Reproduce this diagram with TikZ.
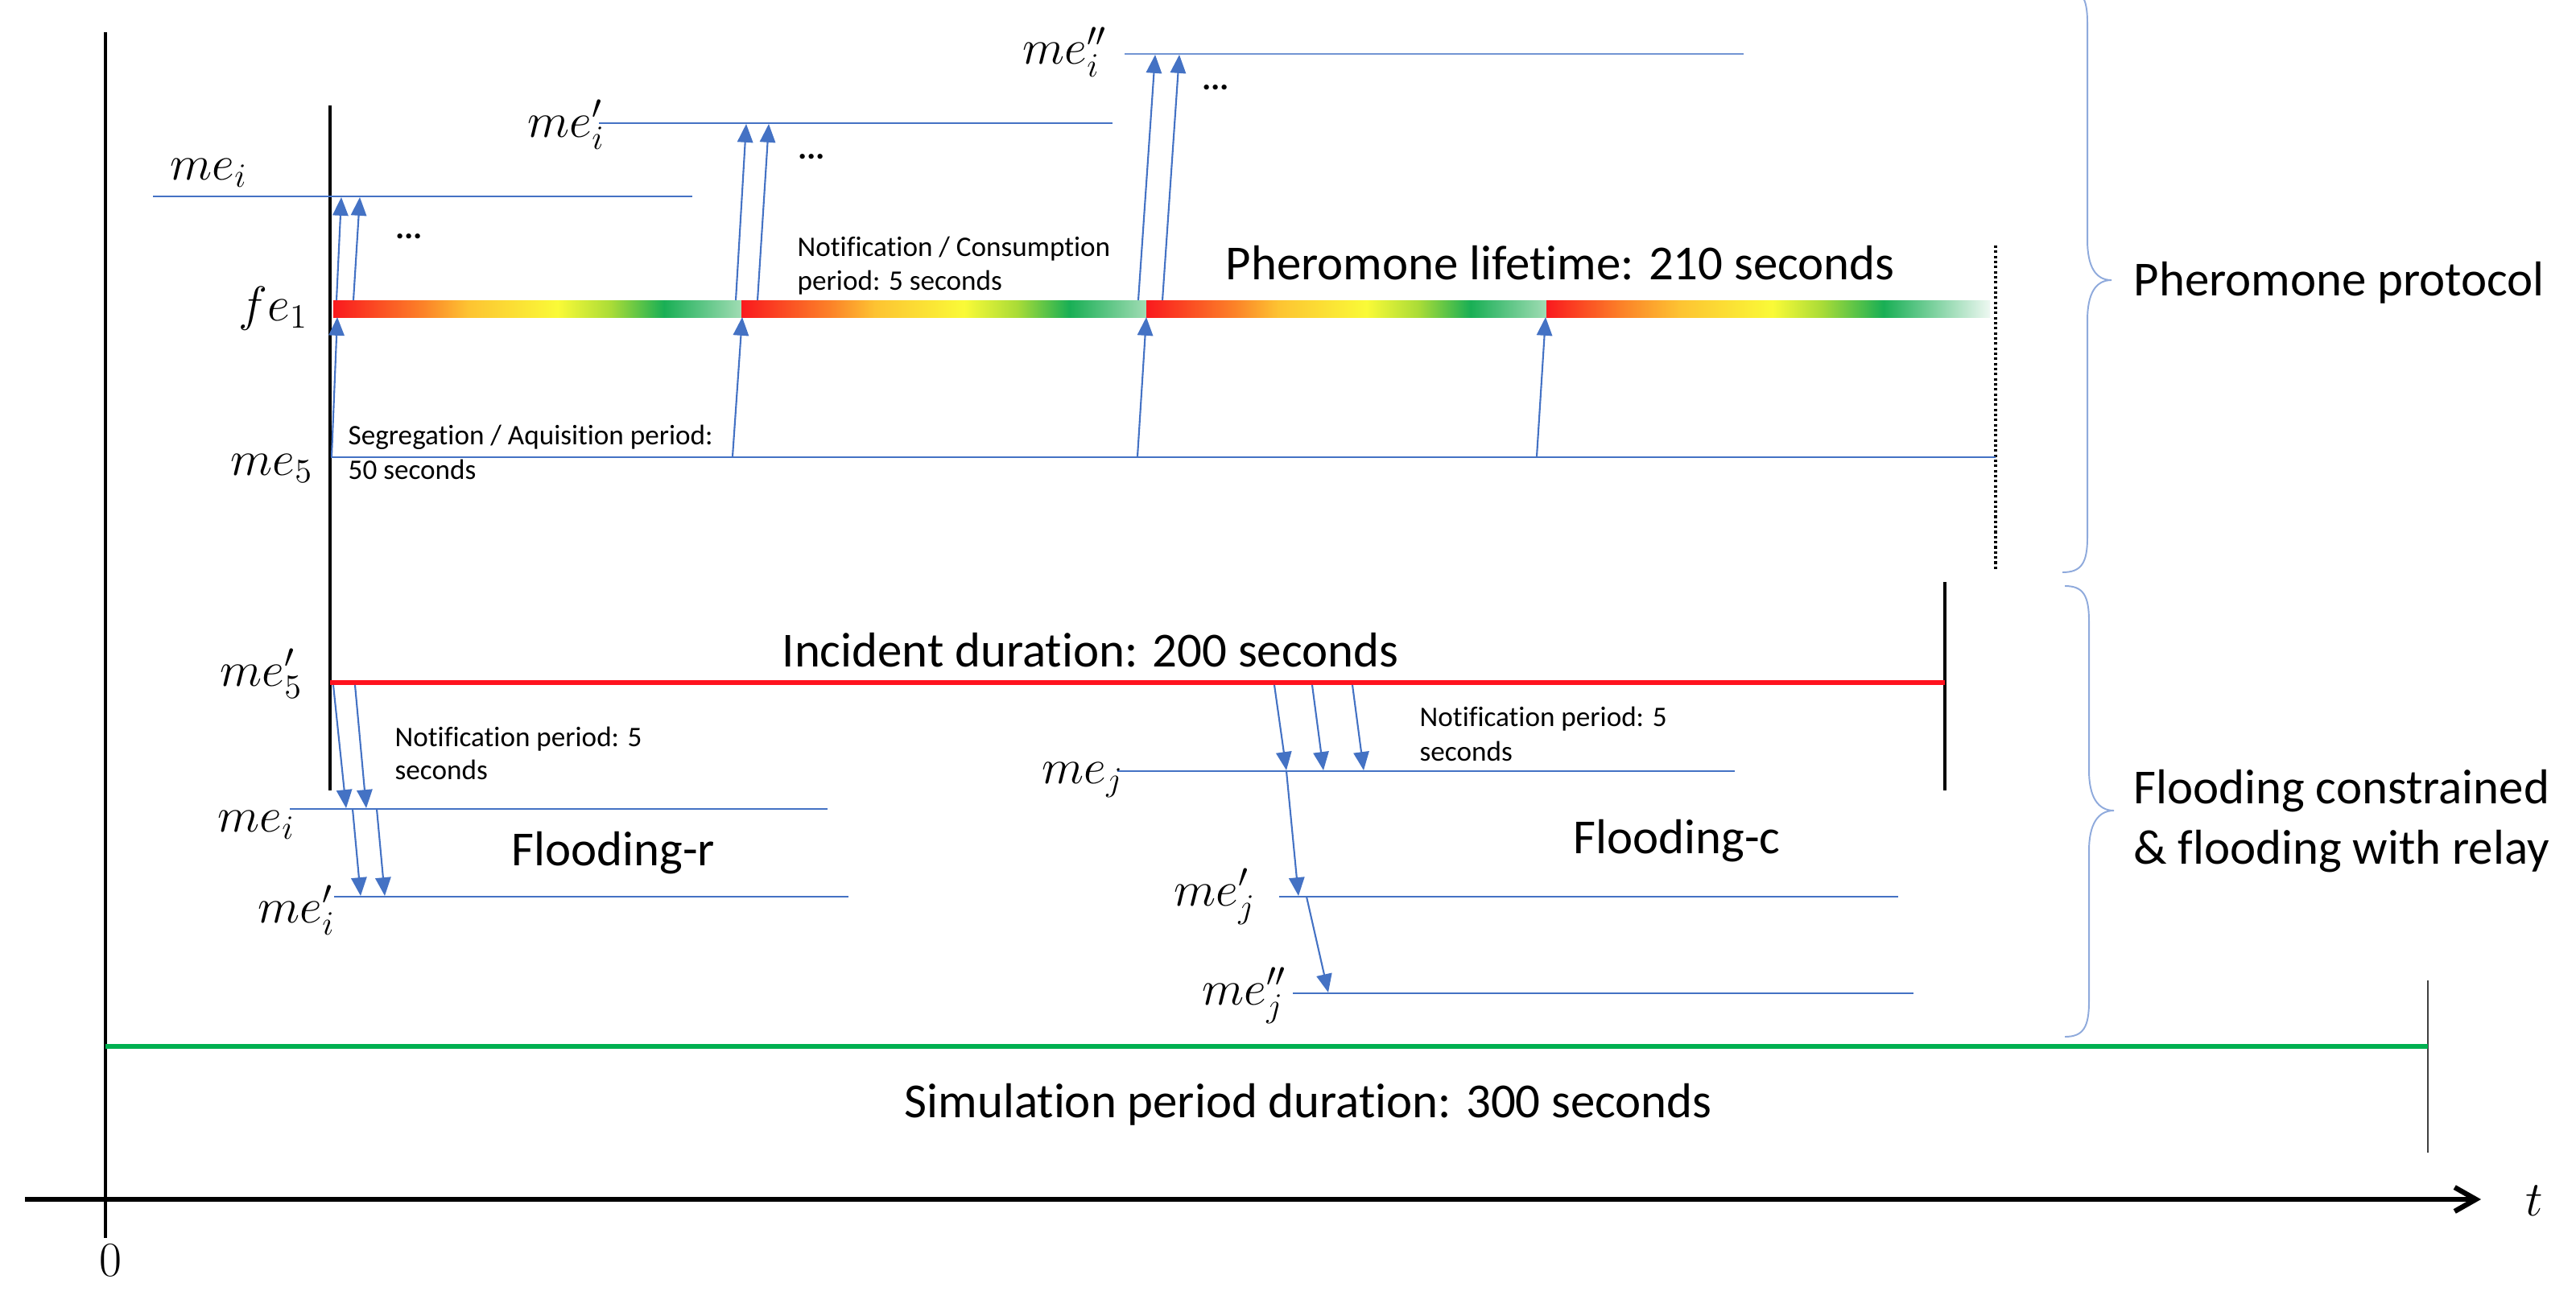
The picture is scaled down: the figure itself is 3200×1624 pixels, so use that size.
\documentclass[tikz,border=0pt]{standalone}
\usepackage[no-math]{fontspec}
\setmainfont[Ligatures=NoCommon]{Carlito}
\usetikzlibrary{arrows.meta}
\definecolor{msblue}{RGB}{68,114,196}
\definecolor{lblue}{RGB}{143,170,220}
\definecolor{msgreen}{RGB}{0,176,80}
\definecolor{msred}{RGB}{255,18,30}
\definecolor{sA0}{RGB}{250,25,30}
\definecolor{sA1}{RGB}{252,130,40}
\definecolor{sA2}{RGB}{253,195,50}
\definecolor{sA3}{RGB}{250,250,55}
\definecolor{sA4}{RGB}{170,220,55}
\definecolor{sA5}{RGB}{25,175,85}
\definecolor{sA6}{RGB}{160,220,180}
\definecolor{sB6}{RGB}{238,248,242}
\pgfdeclarehorizontalshading{pherA}{100bp}{color(0bp)=(sA0); color(25bp)=(sA0); color(36bp)=(sA1); color(41.5bp)=(sA2); color(52.5bp)=(sA3); color(59bp)=(sA4); color(65.5bp)=(sA5); color(75bp)=(sA6); color(100bp)=(sA6)}
\pgfdeclarehorizontalshading{pherB}{100bp}{color(0bp)=(sA0); color(25bp)=(sA0); color(33.5bp)=(sA1); color(40bp)=(sA2); color(50.5bp)=(sA3); color(56bp)=(sA4); color(63bp)=(sA5); color(75bp)=(sB6); color(100bp)=(sB6)}
\tikzset{
  big/.style={font=\fontsize{17.3}{20}\selectfont, inner sep=0pt, anchor=base west},
  small/.style={font=\fontsize{10}{12}\selectfont, inner sep=0pt, anchor=base west},
  lab/.style={font=\fontsize{17.5}{20}\selectfont, inner sep=0pt, anchor=base west},
  dots/.style={font=\fontsize{12}{14}\selectfont\bfseries, inner sep=0pt},
  msgline/.style={msblue, line width=0.6pt},
  msg/.style={msblue, line width=0.6pt, -{Triangle[length=6.5pt,width=5.5pt]}},
  brc/.style={lblue, line width=0.55pt},
}
\begin{document}
\begin{tikzpicture}[x=0.01cm, y=-0.01cm]
\useasboundingbox (0,0) rectangle (3200,1624);

% ---- axes ----
\coordinate (ax0) at (31,1490); \coordinate (ax1) at (3082,1490);
\coordinate (ay0) at (131,40); \coordinate (ay1) at (131,1538);
\draw[line width=1.4pt] (ay0) -- (ay1);
\draw[line width=1.8pt, -{Straight Barb[length=7.5pt,width=8.5pt]}] (ax0) -- (ax1);
\node[font=\fontsize{18}{20}\selectfont, inner sep=0pt] (tlab) at (3148,1492) {$t$};
\node[font=\fontsize{18}{20}\selectfont, inner sep=0pt] (zero) at (137,1566) {$0$};

% ---- black verticals ----
\coordinate (v0) at (410,131); \coordinate (v1) at (410,982);
\draw[line width=1.1pt] (v0) -- (v1);
\coordinate (w0) at (2416,723); \coordinate (w1) at (2416,982);
\draw[line width=1.1pt] (w0) -- (w1);
\coordinate (d0) at (2479,305); \coordinate (d1) at (2479,708);
\draw[line width=0.9pt, dash pattern=on 0.9pt off 0.9pt] (d0) -- (d1);
\coordinate (s0) at (3016,1218); \coordinate (s1) at (3016,1432);
\draw[line width=0.5pt, black!75] (s0) -- (s1);

% ---- red and green lines ----
\coordinate (r0) at (410,848); \coordinate (r1) at (2416,848);
\draw[msred, line width=1.6pt] (r0) -- (r1);
\coordinate (g0) at (131,1300); \coordinate (g1) at (3016,1300);
\draw[msgreen, line width=1.6pt] (g0) -- (g1);

% ---- blue timelines ----
\coordinate (mi0) at (190,244); \coordinate (mi1) at (860,244);
\coordinate (mip0) at (744,153); \coordinate (mip1) at (1382,153);
\coordinate (mipp0) at (1397,67); \coordinate (mipp1) at (2166,67);
\coordinate (m50) at (411,568); \coordinate (m51) at (2479,568);
\coordinate (li0) at (360,1005); \coordinate (li1) at (1028,1005);
\coordinate (lip0) at (415,1114); \coordinate (lip1) at (1054,1114);
\coordinate (mj0) at (1388,958); \coordinate (mj1) at (2155,958);
\coordinate (mjp0) at (1589,1114); \coordinate (mjp1) at (2358,1114);
\coordinate (mjpp0) at (1606,1234); \coordinate (mjpp1) at (2377,1234);
\draw[msgline] (mi0) -- (mi1);
\draw[msgline] (mip0) -- (mip1);
\draw[msblue!75, line width=0.8pt] (mipp0) -- (mipp1);
\draw[msgline] (m50) -- (m51);
\draw[msgline] (li0) -- (li1);
\draw[msgline] (lip0) -- (lip1);
\draw[msgline] (mj0) -- (mj1);
\draw[msgline] (mjp0) -- (mjp1);
\draw[msgline] (mjpp0) -- (mjpp1);

% ---- pheromone bars ----
\shade[shading=pherA] (414,373) rectangle (921,394);
\shade[shading=pherA] (921,373) rectangle (1424,394);
\shade[shading=pherA] (1424,373) rectangle (1921,394);
\shade[shading=pherB] (1921,373) rectangle (2472,394);

% ---- arrows me5 -> fe1 ----
\coordinate (a0s) at (412,567); \coordinate (a0e) at (419,394);
\coordinate (a1s) at (910,567); \coordinate (a1e) at (922,394);
\coordinate (a2s) at (1413,567); \coordinate (a2e) at (1424,394);
\coordinate (a3s) at (1909,567); \coordinate (a3e) at (1920,394);
\draw[msg] (a0s) -- (a0e);
\draw[msg] (a1s) -- (a1e);
\draw[msg] (a2s) -- (a2e);
\draw[msg] (a3s) -- (a3e);

% ---- arrows fe1 -> me_i, me_i', me_i'' ----
\coordinate (b1s) at (418,373); \coordinate (b1e) at (424,245);
\coordinate (b2s) at (439,373); \coordinate (b2e) at (447,245);
\coordinate (c1s) at (914,373); \coordinate (c1e) at (927,154);
\coordinate (c2s) at (941,373); \coordinate (c2e) at (955,154);
\coordinate (e1s) at (1414,373); \coordinate (e1e) at (1435,68);
\coordinate (e2s) at (1444,373); \coordinate (e2e) at (1465,68);
\draw[msg] (b1s) -- (b1e);
\draw[msg] (b2s) -- (b2e);
\draw[msg] (c1s) -- (c1e);
\draw[msg] (c2s) -- (c2e);
\draw[msg] (e1s) -- (e1e);
\draw[msg] (e2s) -- (e2e);

% ---- flooding-r arrows ----
\coordinate (f1s) at (414,851); \coordinate (f1e) at (430,1004);
\coordinate (f2s) at (441,851); \coordinate (f2e) at (455,1004);
\coordinate (h1s) at (438,1005); \coordinate (h1e) at (448,1113);
\coordinate (h2s) at (468,1005); \coordinate (h2e) at (478,1113);
\draw[msg] (f1s) -- (f1e);
\draw[msg] (f2s) -- (f2e);
\draw[msg] (h1s) -- (h1e);
\draw[msg] (h2s) -- (h2e);

% ---- flooding-c arrows ----
\coordinate (k1s) at (1583,851); \coordinate (k1e) at (1598,957);
\coordinate (k2s) at (1630,851); \coordinate (k2e) at (1644,957);
\coordinate (k3s) at (1680,851); \coordinate (k3e) at (1694,957);
\coordinate (k4s) at (1598,958); \coordinate (k4e) at (1613,1113);
\coordinate (k5s) at (1623,1114); \coordinate (k5e) at (1650,1233);
\draw[msg] (k1s) -- (k1e);
\draw[msg] (k2s) -- (k2e);
\draw[msg] (k3s) -- (k3e);
\draw[msg] (k4s) -- (k4e);
\draw[msg] (k5s) -- (k5e);

% ---- braces ----
\draw[brc] (2562,711) .. controls (2585,711) and (2593,700) .. (2593,668)
  -- (2593,398) .. controls (2593,365) and (2603,348) .. (2623,348)
  .. controls (2603,348) and (2593,331) .. (2593,298)
  -- (2593,28) .. controls (2593,-4) and (2585,-15) .. (2562,-15);
\draw[brc] (2565,728) .. controls (2588,728) and (2595,740) .. (2595,772)
  -- (2595,957) .. controls (2595,990) and (2606,1007) .. (2626,1007)
  .. controls (2606,1007) and (2595,1024) .. (2595,1057)
  -- (2595,1244) .. controls (2595,1276) and (2588,1288) .. (2565,1288);

% ---- math labels ----
\node[lab] (mei) at (211,223) {$me_i$};
\node[lab] (meip) at (655,170) {$me_i'$};
\node[lab] (meipp) at (1270,80) {$me_i''$};
\node[lab] (fe1) at (296,398) {$fe_1$};
\node[lab] (me5) at (286,590) {$me_5$};
\node[lab] (me5p) at (273,852) {$me_5'$};
\node[lab] (meiL) at (270,1033) {$me_i$};
\node[lab] (meiLp) at (320,1146) {$me_i'$};
\node[lab] (mej) at (1294,973) {$me_j$};
\node[lab] (mejp) at (1458,1125) {$me_j'$};
\node[lab] (mejpp) at (1493,1248) {$me_j''$};

% ---- dots ----
\node[dots] (dt1) at (508,294) {...};
\node[dots] (dt2) at (1008,195) {...};
\node[dots] (dt3) at (1510,109) {...};

% ---- texts ----
\node[big] (plife) at (1522,347) {Pheromone lifetime: 210 seconds};
\node[small] (nc1) at (990,318) {Notification / Consumption};
\node[small] (nc2) at (990,360) {period: 5 seconds};
\node[small] (sa1) at (432,552) {Segregation / Aquisition period:};
\node[small] (sa2) at (432,595) {50 seconds};
\node[big] (inc) at (971,828) {Incident duration: 200 seconds};
\node[small] (npa1) at (490,927) {Notification period: 5};
\node[small] (npa2) at (490,968) {seconds};
\node[small] (npb1) at (1763,902) {Notification period: 5};
\node[small] (npb2) at (1763,945) {seconds};
\node[big] (flr) at (635,1075) {Flooding-r};
\node[big] (flc) at (1954,1060) {Flooding-c};
\node[big] (pp) at (2650,367) {Pheromone protocol};
\node[big] (fc1) at (2650,998) {Flooding constrained};
\node[big] (fc2) at (2650,1073) {\& flooding with relay};
\node[big] (sim) at (1123,1388) {Simulation period duration: 300 seconds};
\end{tikzpicture}
\end{document}
